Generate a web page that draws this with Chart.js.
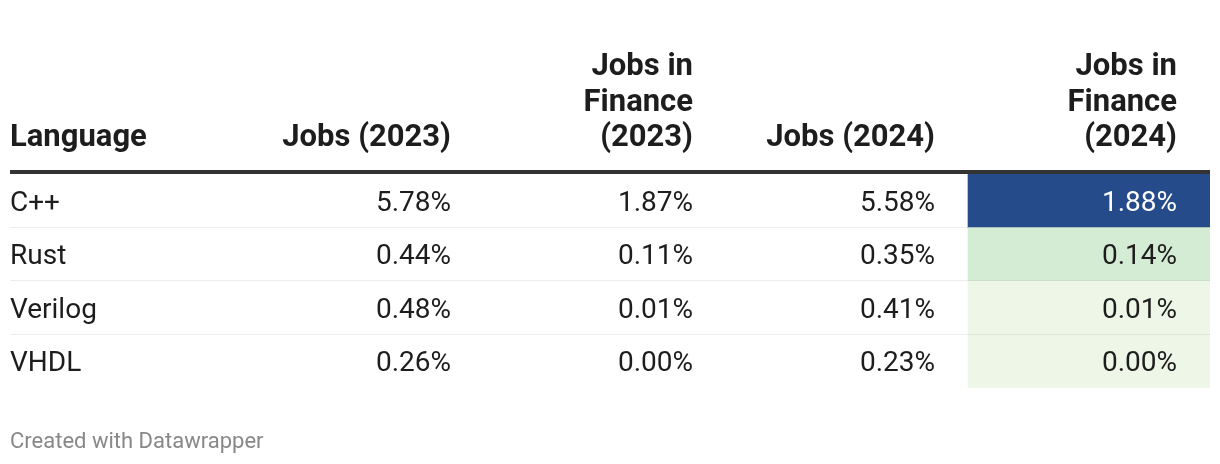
<!DOCTYPE html>
<html>
<head>
<meta charset="utf-8">
<script src="https://cdn.jsdelivr.net/npm/chart.js@4.4.1/dist/chart.umd.min.js"></script>
<style>
  html, body { margin: 0; padding: 0; background: #fff; }
  #wrap { position: relative; width: 1220px; height: 464px; }
</style>
</head>
<body>
<div id="wrap"><canvas id="tableChart"></canvas></div>
<script>
// table data
const languages = ['C++', 'Rust', 'Verilog', 'VHDL'];
const columnHeaders = [
    ['Language'],
    ['Jobs (2023)'],
    ['Jobs in', 'Finance', '(2023)'],
    ['Jobs (2024)'],
    ['Jobs in', 'Finance', '(2024)']
];
const jobs2023 = [5.78, 0.44, 0.48, 0.26];
const finance2023 = [1.87, 0.11, 0.01, 0.00];
const jobs2024 = [5.58, 0.35, 0.41, 0.23];
const finance2024 = [1.88, 0.14, 0.01, 0.00];
const footerText = 'Created with Datawrapper';

const valueColumns = [jobs2023, finance2023, jobs2024, finance2024];
const heatColumn = 4;

function heatColor(v) {
    if (v >= 1) return '#264b8b';
    if (v >= 0.1) return '#d5ecd4';
    return '#eef7e7';
}

const FONT = 'Roboto, "Liberation Sans", sans-serif';
const TEXT = '#1d1d1d';

const tablePlugin = {
    id: 'tableText',
    afterDatasetsDraw(chart) {
        const { ctx, chartArea, scales } = chart;
        const x = scales.x, y = scales.y;
        const left = chartArea.left, width = chartArea.right - chartArea.left;
        ctx.save();

        // row separators
        ctx.fillStyle = 'rgba(0,0,0,0.07)';
        for (let i = 0; i < languages.length - 1; i++) {
            const sy = Math.round((y.getPixelForValue(i) + y.getPixelForValue(i + 1)) / 2);
            ctx.fillRect(left, sy - 1, width, 1);
        }

        // header rule
        ctx.fillStyle = '#333333';
        ctx.fillRect(left, chartArea.top - 4, width, 4);

        // headers
        ctx.font = 'bold 31px ' + FONT;
        ctx.fillStyle = TEXT;
        ctx.textBaseline = 'alphabetic';
        columnHeaders.forEach((lines, c) => {
            const tx = c === 0 ? left : x.getPixelForValue(c + 1) - 33;
            ctx.textAlign = c === 0 ? 'left' : 'right';
            const last = chartArea.top - 28;
            lines.forEach((line, k) => {
                ctx.fillText(line, tx, last - (lines.length - 1 - k) * 35.5);
            });
        });

        // body
        ctx.font = '28px ' + FONT;
        languages.forEach((lang, i) => {
            const by = y.getPixelForValue(i) + 10;
            ctx.textAlign = 'left';
            ctx.fillStyle = TEXT;
            ctx.fillText(lang, left, by);
            valueColumns.forEach((col, j) => {
                const c = j + 1;
                ctx.textAlign = 'right';
                ctx.fillStyle = (c === heatColumn && col[i] >= 1) ? '#ffffff' : TEXT;
                ctx.fillText(col[i].toFixed(2) + '%', x.getPixelForValue(c + 1) - 33, by);
            });
        });

        // footer
        ctx.font = '22px ' + FONT;
        ctx.fillStyle = '#888888';
        ctx.textAlign = 'left';
        ctx.fillText(footerText, left, 448);
        ctx.restore();
    }
};

const ctx = document.getElementById('tableChart').getContext('2d');
new Chart(ctx, {
    type: 'bar',
    data: {
        labels: languages,
        datasets: [{
            data: finance2024.map((v, i) => ({ x: [heatColumn, heatColumn + 1], y: languages[i], v: v })),
            backgroundColor: finance2024.map(heatColor),
            borderWidth: 0,
            barPercentage: 1,
            categoryPercentage: 1
        }]
    },
    options: {
        indexAxis: 'y',
        responsive: true,
        maintainAspectRatio: false,
        animation: false,
        layout: { padding: { left: 10, right: 10, top: 174, bottom: 76 } },
        plugins: {
            legend: { display: false },
            tooltip: { enabled: false }
        },
        scales: {
            // first column is 10px narrower than the others
            x: { type: 'linear', min: 10 / 242, max: 5, display: false },
            y: { type: 'category', display: false }
        }
    },
    plugins: [tablePlugin]
});
</script>
</body>
</html>
